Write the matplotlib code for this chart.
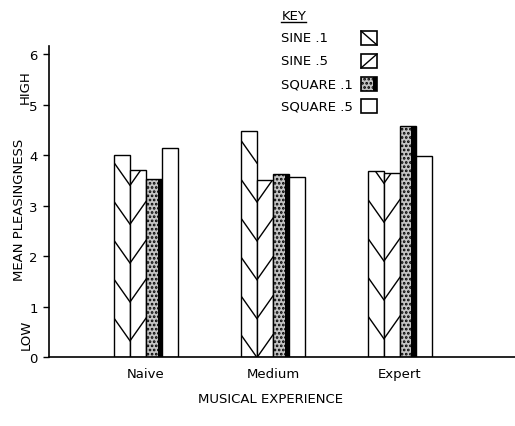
import matplotlib
matplotlib.use('Agg')
import matplotlib.pyplot as plt
import numpy as np
from matplotlib.lines import Line2D
from matplotlib.patches import Rectangle

# data
groups = ['Naive', 'Medium', 'Expert']
series = ['SINE .1', 'SINE .5', 'SQUARE .1', 'SQUARE .5']
sine_01 = [4.00, 4.48, 3.68]
sine_05 = [3.70, 3.50, 3.64]
square_01 = [3.52, 3.62, 4.57]
square_05 = [4.14, 3.56, 3.98]
yticks = [0, 1, 2, 3, 4, 5, 6]

plt.rcParams['font.family'] = ['DejaVu Sans']
plt.rcParams['hatch.color'] = '#3a3a3a'
plt.rcParams['hatch.linewidth'] = 1.3

W, H = 515, 427
fig = plt.figure(figsize=(W / 100, H / 100), dpi=100)
ax = fig.add_axes([49 / W, 1 - 358 / H, 466 / W, (358 - 47) / H])

x = np.arange(len(groups))
w = 0.126
offsets = np.array([-1.5, -0.5, 0.5, 1.5]) * w

b1 = ax.bar(x + offsets[0], sine_01, w, facecolor='white', edgecolor='black', lw=1.0, zorder=2)
b2 = ax.bar(x + offsets[1], sine_05, w, facecolor='white', edgecolor='black', lw=1.0, zorder=2)
b3 = ax.bar(x + offsets[2], square_01, w, facecolor='#c4c4c4', edgecolor='black', lw=1.0,
            hatch='....', zorder=2)
# dark shadow strip on the right side of the stippled bars
strip = w * 0.28
ax.bar(x + offsets[2] + w / 2 - strip / 2, square_01, strip, color='black', lw=0, zorder=3)
b4 = ax.bar(x + offsets[3], square_05, w, facecolor='white', edgecolor='black', lw=1.0, zorder=2)

# sparse diagonal hatching (chevron pattern) drawn as clipped lines
spacing, drop = 0.77, 0.45
phase = [0.0, -0.33, 0.04]  # hatch phase per group


def add_diagonals(bars, down):
    for rect, ph in zip(bars, phase):
        x0, wd, ht = rect.get_x(), rect.get_width(), rect.get_height()
        c = spacing + ph
        while c - drop < ht:
            if down:
                ys = [c, c - drop]
            else:
                ys = [c - drop, c]
            ln = Line2D([x0, x0 + wd], ys, color='black', lw=1.0, zorder=2.5)
            ax.add_line(ln)
            ln.set_clip_path(rect)
            c += spacing


add_diagonals(b1, True)
add_diagonals(b2, False)

ax.set_xlim(-0.764, 2.906)
ax.set_ylim(0, 6.16)
ax.set_yticks(yticks)
ax.set_xticks(x)
ax.set_xticklabels(groups, fontsize=9.5)
ax.tick_params(axis='x', length=0, pad=7)
ax.tick_params(axis='y', direction='out', length=4, width=1, pad=4, labelsize=9.5)
for s in ['top', 'right']:
    ax.spines[s].set_visible(False)
ax.spines['left'].set_linewidth(1.2)
ax.spines['bottom'].set_linewidth(1.2)

ax.set_xlabel('MUSICAL EXPERIENCE', fontsize=9.5)
ax.xaxis.set_label_coords((271 - 49) / 466, -(393 - 358) / 311)

fig.text(20 / W, 1 - 210 / H, 'MEAN PLEASINGNESS', rotation=90, ha='center', va='center', fontsize=9.5)
fig.text(25 / W, 1 - 87 / H, 'HIGH', rotation=90, ha='center', va='center', fontsize=9.5)
fig.text(26 / W, 1 - 335 / H, 'LOW', rotation=90, ha='center', va='center', fontsize=9.5)

# "KEY" heading, underlined
fig.text(282 / W, 1 - 16 / H, 'KEY', ha='left', va='center', fontsize=9.5)
fig.add_artist(Line2D([281 / W, 306 / W], [1 - 23 / H, 1 - 23 / H], color='black', lw=1.0,
                      transform=fig.transFigure))

# key entries: left-aligned labels with small swatches to the right
row_y = [39, 62, 85, 107]
bw, bh = 16, 14
for i, (lab, yy) in enumerate(zip(series, row_y)):
    fig.text(281 / W, 1 - yy / H, lab, ha='left', va='center', fontsize=9.5)
    x0, y0 = 361 / W, 1 - (yy + bh / 2) / H
    ww, hh = bw / W, bh / H
    fc = '#c4c4c4' if i == 2 else 'white'
    fig.add_artist(Rectangle((x0, y0), ww, hh, facecolor=fc, edgecolor='black', lw=1.2,
                             hatch='....' if i == 2 else None, transform=fig.transFigure))
    if i == 0:
        fig.add_artist(Line2D([x0, x0 + ww], [y0 + hh, y0], color='black', lw=1.0, transform=fig.transFigure))
    elif i == 1:
        fig.add_artist(Line2D([x0, x0 + ww], [y0, y0 + hh], color='black', lw=1.0, transform=fig.transFigure))
    elif i == 2:
        fig.add_artist(Rectangle((x0 + ww * 0.72, y0), ww * 0.28, hh, facecolor='black', lw=0,
                                 transform=fig.transFigure))

fig.savefig('out.png', dpi=100)
